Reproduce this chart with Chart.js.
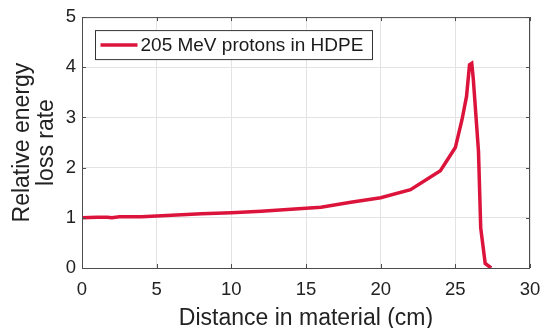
<!DOCTYPE html>
<html>
<head>
<meta charset="utf-8">
<script src="https://cdn.jsdelivr.net/npm/chart.js@4/dist/chart.umd.min.js"></script>
<style>
  html, body { margin: 0; padding: 0; background: #fff; }
  #wrap { width: 541px; height: 328px; }
</style>
</head>
<body>
<div id="wrap"><canvas id="chart" width="541" height="328"></canvas></div>
<script>
// depth in cm, relative energy loss rate
var depth = [0, 1, 1.7, 2, 2.5, 4, 6, 8, 10, 12, 14, 16, 18, 20, 22, 24, 25, 25.45, 25.75, 25.95, 26.1, 26.2, 26.55, 26.7, 27.0, 27.4];
var lossRate = [1.00, 1.01, 1.01, 1.00, 1.02, 1.02, 1.05, 1.08, 1.10, 1.13, 1.17, 1.21, 1.31, 1.40, 1.56, 1.94, 2.40, 2.96, 3.42, 4.05, 4.08, 3.78, 2.33, 0.80, 0.09, 0.00];
var xTicks = [0, 5, 10, 15, 20, 25, 30];
var yTicks = [0, 1, 2, 3, 4, 5];
var seriesName = "205 MeV protons in HDPE";

var points = [];
for (var i = 0; i < depth.length; i++) {
  points.push({ x: depth[i], y: lossRate[i] });
}

var FONT = "'Liberation Sans', Arial, Helvetica, sans-serif";
var RED = "#dc143c";

// box around the plot, inward tick marks, legend inside the axes
var boxPlugin = {
  id: 'box',
  afterDraw: function(chart) {
    var ctx = chart.ctx;
    var a = chart.chartArea;
    var xs = chart.scales.x, ys = chart.scales.y;
    ctx.save();
    ctx.strokeStyle = "#4d4d4d";
    ctx.lineWidth = 1;
    ctx.strokeRect(a.left + 0.5, a.top + 0.5, a.right - a.left - 1, a.bottom - a.top);
    for (var i = 0; i < xTicks.length; i++) {
      var px = Math.round(xs.getPixelForValue(xTicks[i])) + 0.5;
      ctx.beginPath();
      ctx.moveTo(px, a.bottom); ctx.lineTo(px, a.bottom - 4);
      ctx.moveTo(px, a.top); ctx.lineTo(px, a.top + 4);
      ctx.stroke();
    }
    for (var j = 0; j < yTicks.length; j++) {
      var py = Math.round(ys.getPixelForValue(yTicks[j])) + 0.5;
      ctx.beginPath();
      ctx.moveTo(a.left, py); ctx.lineTo(a.left + 4, py);
      ctx.moveTo(a.right, py); ctx.lineTo(a.right - 4, py);
      ctx.stroke();
    }
    // legend
    var lx = a.left + 13.5, ly = a.top + 13.5, lw = 277, lh = 29;
    ctx.fillStyle = "#fff";
    ctx.fillRect(lx, ly, lw, lh);
    ctx.strokeStyle = "#333";
    ctx.strokeRect(lx, ly, lw, lh);
    ctx.strokeStyle = RED;
    ctx.lineWidth = 3.5;
    ctx.beginPath();
    ctx.moveTo(lx + 5, ly + lh / 2);
    ctx.lineTo(lx + 42, ly + lh / 2);
    ctx.stroke();
    ctx.fillStyle = "#1a1a1a";
    ctx.font = "19px " + FONT;
    ctx.textBaseline = "middle";
    ctx.fillText(seriesName, lx + 45, ly + lh / 2 + 1);
    ctx.restore();
  }
};

new Chart(document.getElementById("chart"), {
  type: 'line',
  data: {
    datasets: [{
      label: seriesName,
      data: points,
      borderColor: RED,
      borderWidth: 3.5,
      pointRadius: 0,
      tension: 0,
      fill: false
    }]
  },
  options: {
    responsive: false,
    animation: false,
    layout: { padding: { left: 10, right: 11, top: 15, bottom: 0 } },
    plugins: {
      legend: { display: false },
      tooltip: { enabled: false }
    },
    scales: {
      x: {
        type: 'linear',
        min: 0, max: 30,
        afterBuildTicks: function(s) { s.ticks = xTicks.map(function(v) { return { value: v }; }); },
        afterFit: function(s) { s.height = 60; s.paddingRight = 0; s.paddingLeft = 0; },
        grid: { color: "#e3e3e3", drawTicks: false },
        border: { display: false },
        ticks: { color: "#222", font: { family: FONT, size: 18.5 }, padding: 11, maxRotation: 0 },
        title: { display: true, text: "Distance in material (cm)", color: "#222", font: { family: FONT, size: 23, lineHeight: 1.0 }, padding: { top: 0, bottom: -2 } }
      },
      y: {
        min: 0, max: 5,
        afterBuildTicks: function(s) { s.ticks = yTicks.map(function(v) { return { value: v }; }); },
        afterFit: function(s) { s.width = 72; },
        grid: { color: "#e3e3e3", drawTicks: false },
        border: { display: false },
        ticks: { color: "#222", font: { family: FONT, size: 18.5 }, padding: 6 },
        title: { display: true, text: ["Relative energy", "loss rate"], color: "#222", font: { family: FONT, size: 23, lineHeight: 1.07 }, padding: { top: 0, bottom: 2 } }
      }
    }
  },
  plugins: [boxPlugin]
});
</script>
</body>
</html>
